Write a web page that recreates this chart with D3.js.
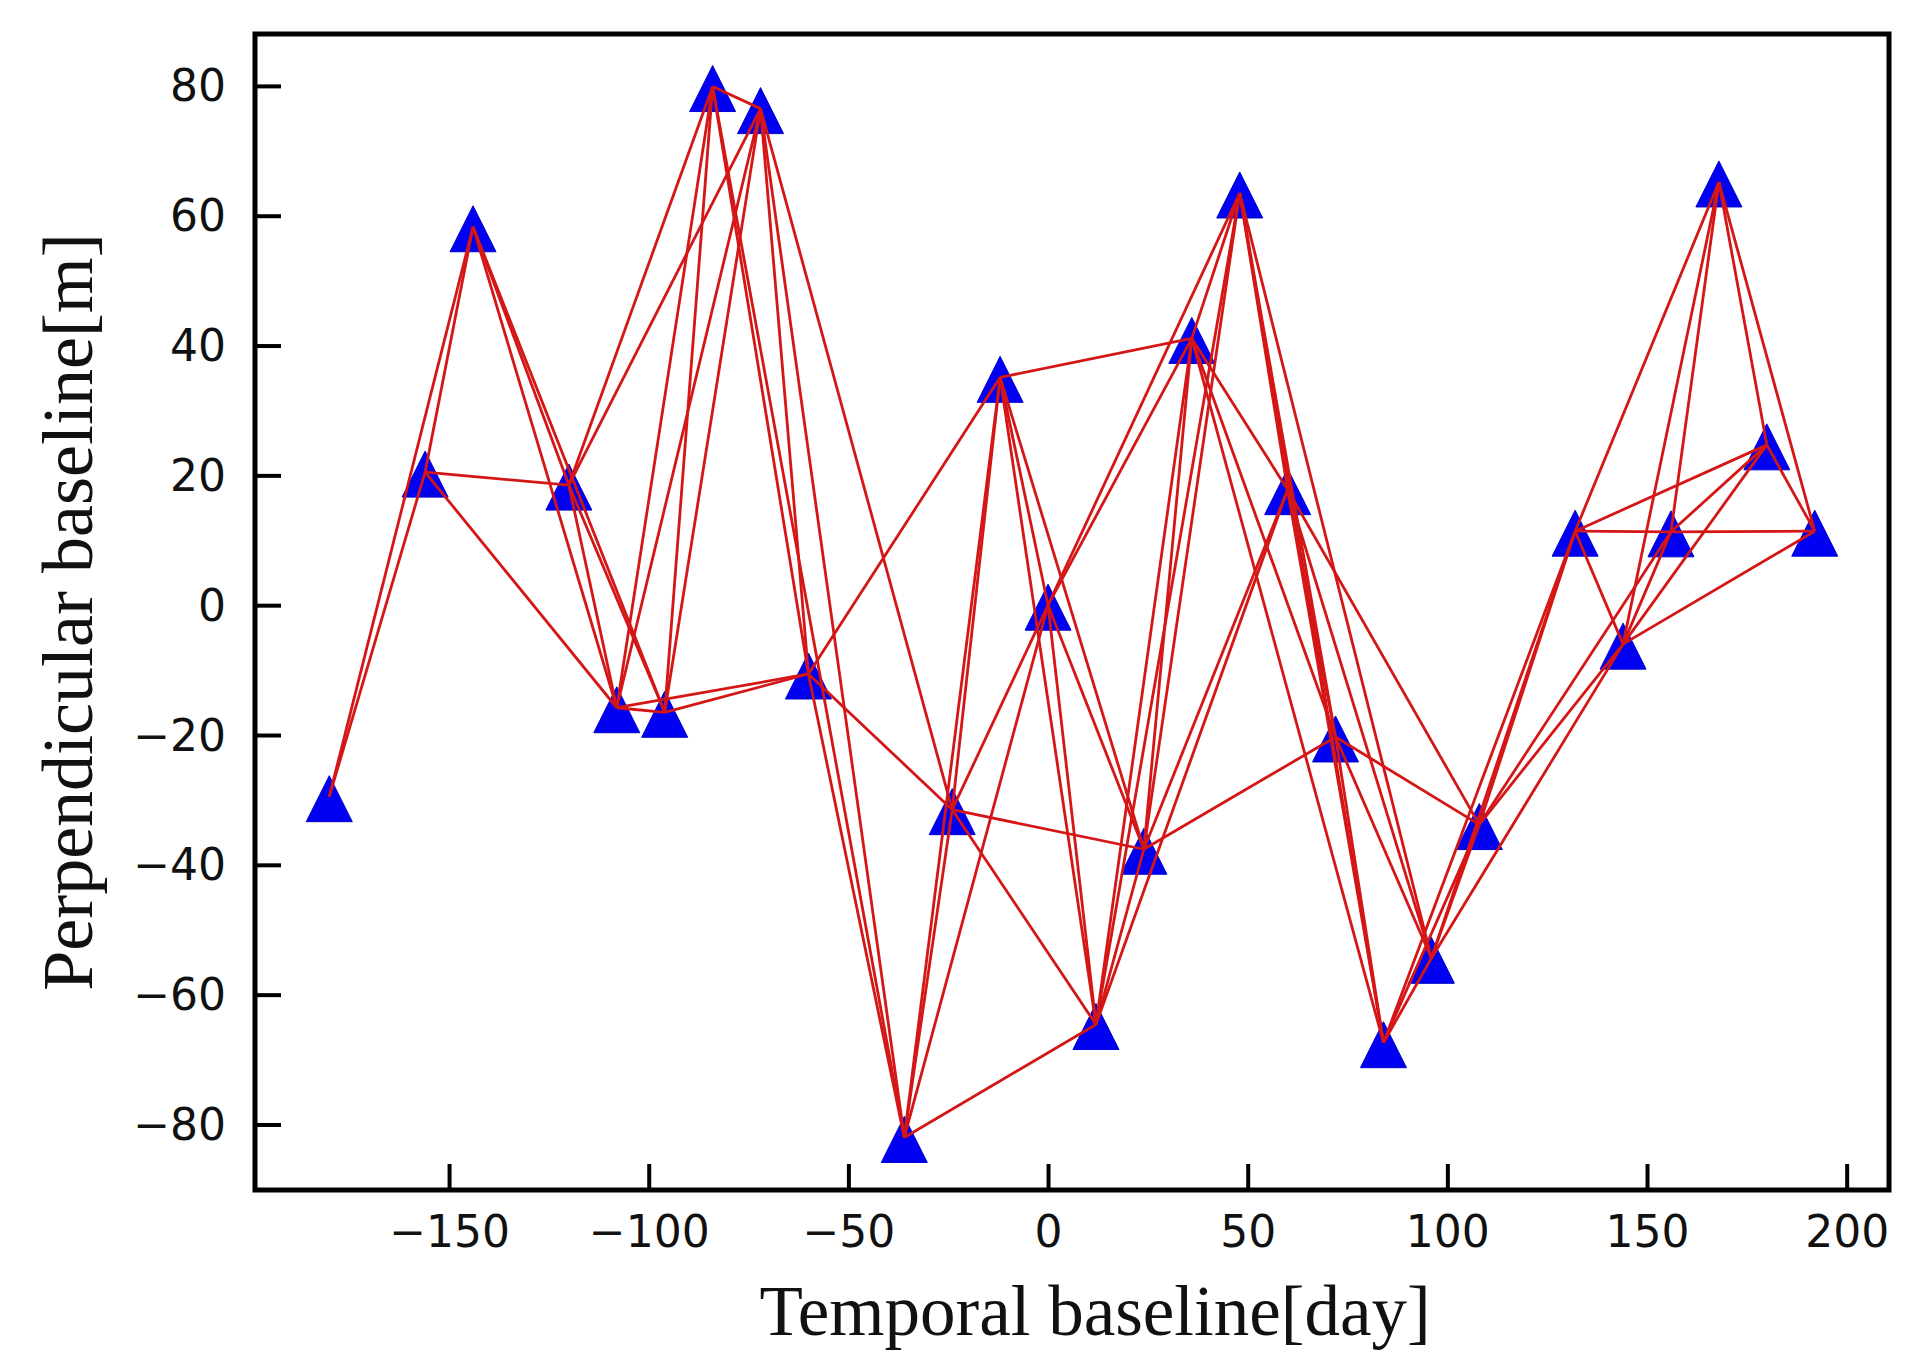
<!DOCTYPE html>
<html>
<head>
<meta charset="utf-8">
<script src="https://cdn.jsdelivr.net/npm/d3@7"></script>
<style>
  body { margin: 0; background: #fff; }
  svg { display: block; }
</style>
</head>
<body>
<svg id="chart" width="1932" height="1367"></svg>
<script>
// acquisition dates relative to the master image (days)
const dates = [-180, -156, -144, -120, -108, -96, -84, -72, -60, -36, -24, -12, 0,
  12, 24, 36, 48, 60, 72, 84, 96, 108, 132, 144, 156, 168, 180, 192];
// perpendicular baseline of each acquisition (m)
const bperp = [-29.5, 20.5, 58.3, 18.5, -15.8, -16.5, 79.9, 76.5, -10.6, -82, -31.5, 35.1, 0,
  -64.6, -37.6, 41.1, 63.5, 17.8, -20.3, -67.4, -54.4, -33.8, 11.4, -6, 11.3, 65.2, 24.7, 11.4];
// interferometric pairs, given as [date1, date2]
const pairs = [
  [-180, -156], [-180, -144],
  [-156, -144], [-156, -120], [-156, -108],
  [-144, -120], [-144, -108], [-144, -96],
  [-120, -108], [-120, -96], [-120, -84], [-120, -72],
  [-108, -96], [-108, -84], [-108, -72], [-108, -60],
  [-96, -84], [-96, -72], [-96, -60],
  [-84, -72], [-84, -60], [-84, -36],
  [-72, -60], [-72, -36], [-72, -24],
  [-60, -36], [-60, -24], [-60, -12],
  [-36, -24], [-36, -12], [-36, 0], [-36, 12],
  [-24, -12], [-24, 0], [-24, 12], [-24, 24],
  [-12, 0], [-12, 12], [-12, 24], [-12, 36],
  [0, 12], [0, 24], [0, 36], [0, 48],
  [12, 24], [12, 36], [12, 48], [12, 60],
  [24, 36], [24, 48], [24, 60], [24, 72],
  [36, 48], [36, 60], [36, 72], [36, 84],
  [48, 60], [48, 72], [48, 84], [48, 96],
  [60, 72], [60, 84], [60, 96], [60, 108],
  [72, 84], [72, 96], [72, 108],
  [84, 96], [84, 108], [84, 132],
  [96, 108], [96, 132], [96, 144],
  [108, 132], [108, 144], [108, 156],
  [132, 144], [132, 156], [132, 168], [132, 180],
  [144, 156], [144, 168], [144, 180], [144, 192],
  [156, 168], [156, 180], [156, 192],
  [168, 180], [168, 192],
  [180, 192]
];
const xTicks = [-150, -100, -50, 0, 50, 100, 150, 200];
const yTicks = [-80, -60, -40, -20, 0, 20, 40, 60, 80];

const margin = { top: 34, right: 43, bottom: 177, left: 255 };
const width = 1932, height = 1367;
const innerWidth = width - margin.left - margin.right;
const innerHeight = height - margin.top - margin.bottom;

const svg = d3.select("#chart");
const innerChart = svg.append("g")
  .attr("transform", `translate(${margin.left}, ${margin.top})`);

// matplotlib style 5% margins
const pad = (ext) => {
  const d = (ext[1] - ext[0]) * 0.05;
  return [ext[0] - d, ext[1] + d];
};
const xScale = d3.scaleLinear().domain(pad(d3.extent(dates))).range([0, innerWidth]);
const yScale = d3.scaleLinear().domain(pad(d3.extent(bperp))).range([innerHeight, 0]);

const tickFont = "'DejaVu Sans', sans-serif";
const labelFont = "'Liberation Serif', 'Times New Roman', serif";

// axes, ticks pointing inward
const xAxis = innerChart.append("g")
  .attr("transform", `translate(0, ${innerHeight})`)
  .call(d3.axisBottom(xScale).tickValues(xTicks).tickSizeInner(-26).tickSizeOuter(0).tickPadding(25));
const yAxis = innerChart.append("g")
  .call(d3.axisLeft(yScale).tickValues(yTicks).tickSizeInner(-26).tickSizeOuter(0).tickPadding(29));

[xAxis, yAxis].forEach((ax) => {
  ax.select(".domain").remove();
  ax.selectAll(".tick line").attr("stroke", "#000").attr("stroke-width", 4);
  ax.selectAll(".tick text")
    .style("font-family", tickFont)
    .style("font-size", "44px")
    .attr("fill", "#111");
});
// put the label baselines in place directly instead of em offsets
xAxis.selectAll(".tick text").attr("dy", null).attr("y", 57);
yAxis.selectAll(".tick text").attr("dy", null).attr("y", 15);

// markers
const nodes = dates.map((d, i) => ({ t: d, b: bperp[i] }));
const r = 23;
innerChart.append("g")
  .selectAll("path")
  .data(nodes)
  .join("path")
  .attr("d", (d) => {
    const cx = xScale(d.t), cy = yScale(d.b) + 2;
    return `M${cx},${cy - r}L${cx + r},${cy + r}L${cx - r},${cy + r}Z`;
  })
  .attr("fill", "#0000f2")
  .attr("stroke", "#0000d0")
  .attr("stroke-width", 1);

// connections drawn on top of the markers
const bByDate = new Map(nodes.map((n) => [n.t, n.b]));
innerChart.append("g")
  .selectAll("line")
  .data(pairs)
  .join("line")
  .attr("x1", (p) => xScale(p[0]))
  .attr("y1", (p) => yScale(bByDate.get(p[0])))
  .attr("x2", (p) => xScale(p[1]))
  .attr("y2", (p) => yScale(bByDate.get(p[1])))
  .attr("stroke", "#d41616")
  .attr("stroke-width", 2.8);

// frame
innerChart.append("rect")
  .attr("x", 0)
  .attr("y", 0)
  .attr("width", innerWidth)
  .attr("height", innerHeight)
  .attr("fill", "none")
  .attr("stroke", "#000")
  .attr("stroke-width", 5);

// axis titles
svg.append("text")
  .attr("x", 1095)
  .attr("y", 1335)
  .attr("text-anchor", "middle")
  .style("font-family", labelFont)
  .style("font-size", "71px")
  .attr("fill", "#111")
  .text("Temporal baseline[day]");

svg.append("text")
  .attr("transform", `translate(92, ${margin.top + innerHeight / 2}) rotate(-90)`)
  .attr("text-anchor", "middle")
  .style("font-family", labelFont)
  .style("font-size", "72px")
  .attr("fill", "#111")
  .text("Perpendicular baseline[m]");
</script>
</body>
</html>
